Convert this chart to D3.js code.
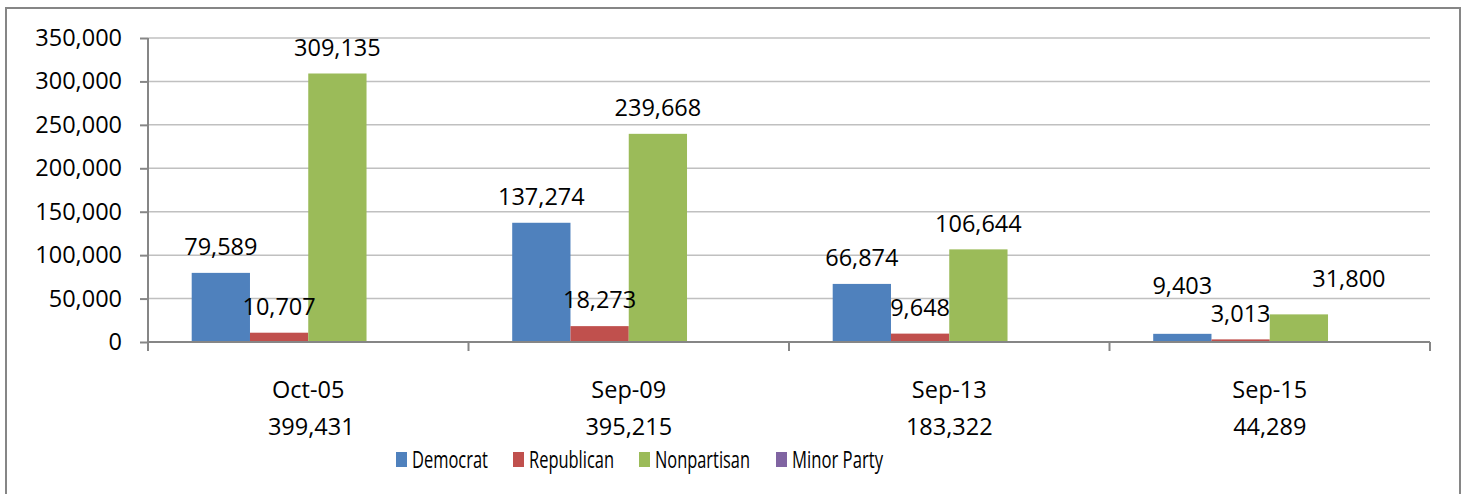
<!DOCTYPE html>
<html>
<head>
<meta charset="utf-8">
<script src="https://cdn.jsdelivr.net/npm/d3@7"></script>
<style>
  body { margin: 0; background: #fff; }
  svg text { font-family: "Open Sans", "Noto Sans", sans-serif; fill: #000; }
</style>
</head>
<body>
<svg id="chart" width="1466" height="494"></svg>
<script>
// ---- data ----
var categories = ['Oct-05', 'Sep-09', 'Sep-13', 'Sep-15'];
var totals     = ['399,431', '395,215', '183,322', '44,289'];
var seriesNames = ['Democrat', 'Republican', 'Nonpartisan', 'Minor Party'];
var democrat    = [79589, 137274, 66874, 9403];
var republican  = [10707, 18273, 9648, 3013];
var nonpartisan = [309135, 239668, 106644, 31800];
var minorParty  = [0, 0, 156, 73];
var yTicks = [0, 50000, 100000, 150000, 200000, 250000, 300000, 350000];

var colours = ['#4F81BD', '#C0504D', '#9BBB59', '#8064A2'];

// labels that were dragged by hand in the original (series|category -> nudge)
var labelNudge = { '0|3': [0, -22], '2|3': [50, -10] };

//-------------------------------------------------------------------------------

var svg = d3.select('#chart');
var plotLeft = 148, plotRight = 1430, plotTop = 38, plotBase = 342;

var values = [democrat, republican, nonpartisan, minorParty];
var rows = [];
values.forEach((arr, s) => arr.forEach((v, c) => rows.push({ s: s, c: c, v: v })));

var x = d3.scaleBand().domain(categories).range([plotLeft, plotRight]);
var xs = d3.scaleBand().domain(d3.range(seriesNames.length))
    .range([0, x.bandwidth()]).paddingInner(0).paddingOuter(0.75);
var y = d3.scaleLinear().domain([0, 350000]).range([plotBase, plotTop]);

// outer chart frame
svg.append('rect')
    .attr('x', 6).attr('y', 8).attr('width', 1454).attr('height', 500)
    .attr('fill', 'none').attr('stroke', '#868686').attr('stroke-width', 2);

// gridlines
svg.append('g').selectAll('line')
    .data(yTicks.filter(t => t > 0))
    .join('line')
    .attr('x1', plotLeft).attr('x2', plotRight)
    .attr('y1', d => y(d)).attr('y2', d => y(d))
    .attr('stroke', '#c0c0c0').attr('stroke-width', 1.5);

// y axis
var yAxis = svg.append('g')
    .attr('transform', `translate(${plotLeft},0)`)
    .call(d3.axisLeft(y).tickValues(yTicks).tickFormat(d3.format(',')).tickSize(8).tickPadding(18));
yAxis.select('.domain').attr('stroke', '#868686').attr('stroke-width', 2)
    .attr('d', `M0,${plotTop}V${plotBase + 9}`);
yAxis.selectAll('.tick line').attr('stroke', '#868686').attr('stroke-width', 2);
yAxis.selectAll('.tick text').attr('font-size', 23.5).attr('fill', '#000')
    .attr('font-family', '"Open Sans", sans-serif');

// bars
svg.append('g').selectAll('rect')
    .data(rows)
    .join('rect')
    .attr('x', d => x(categories[d.c]) + xs(d.s))
    .attr('width', xs.bandwidth())
    .attr('y', d => y(d.v))
    .attr('height', d => plotBase - y(d.v))
    .attr('fill', d => colours[d.s]);

// x axis line + category boundary ticks
var xg = svg.append('g');
xg.append('line')
    .attr('x1', plotLeft).attr('x2', plotRight).attr('y1', plotBase).attr('y2', plotBase)
    .attr('stroke', '#868686').attr('stroke-width', 2);
xg.selectAll('line.tk')
    .data(categories.map(c => x(c)).concat([plotRight]))
    .join('line').attr('class', 'tk')
    .attr('x1', d => d).attr('x2', d => d)
    .attr('y1', plotBase).attr('y2', plotBase + 9)
    .attr('stroke', '#868686').attr('stroke-width', 2);

// category labels (two lines: date, total)
var cl = xg.selectAll('g.cat')
    .data(categories)
    .join('g').attr('class', 'cat')
    .attr('transform', d => `translate(${x(d) + x.bandwidth() / 2},0)`);
cl.append('text').attr('y', 390).attr('dy', '0.35em')
    .attr('text-anchor', 'middle').attr('font-size', 23.5)
    .text(d => d);
cl.append('text').attr('x', (d, i) => i === 0 ? 3 : 0).attr('y', 427).attr('dy', '0.35em')
    .attr('text-anchor', 'middle').attr('font-size', 23.5)
    .text((d, i) => totals[i]);

// data labels (no labels for Minor Party)
svg.append('g').selectAll('text')
    .data(rows.filter(d => d.s < 3))
    .join('text')
    .attr('x', d => x(categories[d.c]) + xs(d.s) + xs.bandwidth() / 2 + (labelNudge[d.s + '|' + d.c] || [0, 0])[0])
    .attr('y', d => y(d.v) - 26 + (labelNudge[d.s + '|' + d.c] || [0, 0])[1])
    .attr('dy', '0.35em')
    .attr('text-anchor', 'middle')
    .attr('font-size', 23.5)
    .text(d => d3.format(',')(d.v));

// legend
var legendX = [396, 513, 639, 776];
var legendW = [76, 85, 95, 91];
var lg = svg.append('g').selectAll('g')
    .data(seriesNames)
    .join('g')
    .attr('transform', (d, i) => `translate(${legendX[i]},452)`);
lg.append('rect').attr('width', 11).attr('height', 15).attr('fill', (d, i) => colours[i]);
lg.append('text')
    .attr('x', 16).attr('y', 7.5).attr('dy', '0.36em')
    .attr('font-size', 23)
    .attr('textLength', (d, i) => legendW[i])
    .attr('lengthAdjust', 'spacingAndGlyphs')
    .text(d => d);
</script>
</body>
</html>
